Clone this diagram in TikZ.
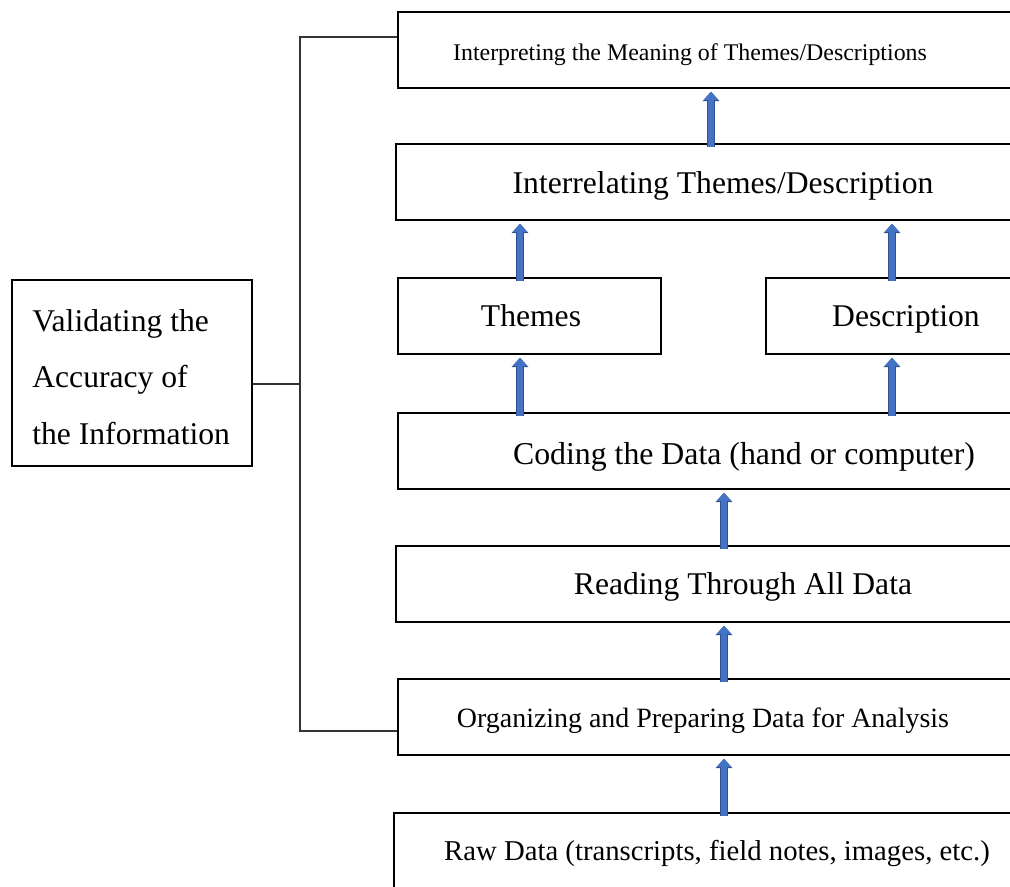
\documentclass[tikz,border=0pt]{standalone}
\usepackage{fontspec}
\setmainfont{Liberation Serif}
\usetikzlibrary{arrows.meta}
\definecolor{arrowfill}{HTML}{4472C4}
\definecolor{arrowline}{HTML}{2F528F}
\tikzset{box/.style={draw=black, line width=1.1pt, rectangle, anchor=north west, inner sep=0pt, minimum width=14cm, minimum height=1.52cm}}
\tikzset{lbl/.style={font=\fontsize{18pt}{22pt}\selectfont, inner sep=0pt, text depth=0pt}}
\tikzset{slbl/.style={font=\fontsize{15.9pt}{19pt}\selectfont, inner sep=0pt, text depth=0pt}}
\tikzset{bracket/.style={draw=black!80, line width=0.8pt}}
\tikzset{blockarr/.style={draw=arrowfill, line width=3.9pt, -{Triangle[width=8pt,length=4.6pt]},
    preaction={draw=arrowline, line width=4.9pt, -{Triangle[width=9.4pt,length=5.4pt]}},
    shorten <=-2pt, shorten >=1.6pt}}

\begin{document}
\begin{tikzpicture}[x=0.02cm, y=-0.02cm]
            
                \useasboundingbox (0,0) rectangle (1010,886);
                \clip (0,0) rectangle (1010,886);
            
                \node[box] (interp) at (397,11) {};
                \node[box] (relate) at (395,143) {};
                \node[box, minimum width=5.26cm] (themes) at (397,277) {};
                \node[box] (descr) at (765,277) {};
                \node[box] (coding) at (397,412) {};
                \node[box] (reading) at (395,545) {};
                \node[box] (organ) at (397,678) {};
                \node[box] (raw) at (393,812) {};
                \node[box, minimum width=4.8cm, minimum height=3.72cm] (valid) at (11,279) {};
            
                \node[font=\fontsize{13.6pt}{16pt}\selectfont, inner sep=0pt, text depth=0pt] (tinterp) at (690,52) {Interpreting the Meaning of Themes/Descriptions};
                \node[lbl] (trelate) at (723,183) {Interrelating Themes/Description};
                \node[lbl] (tthemes) at (531,316) {Themes};
                \node[lbl] (tdescr) at (906,316) {Description};
                \node[lbl, font=\fontsize{18.1pt}{22pt}\selectfont] (tcoding) at (744,453) {Coding the Data (hand or computer)};
                \node[lbl] (treading) at (743,584) {Reading Through All Data};
                \node[slbl] (torgan) at (703,718) {Organizing and Preparing Data for Analysis};
                \node[slbl, font=\fontsize{16.35pt}{19pt}\selectfont] (traw) at (717,850) {Raw Data (transcripts, field notes, images, etc.)};
                \node[font=\fontsize{18pt}{32pt}\selectfont, inner sep=0pt, anchor=west, align=left] (tvalid) at (32,377) {Validating the\\Accuracy of\\the Information};
            
                \coordinate (btop) at (300,37);
                \coordinate (bmid) at (300,384);
                \coordinate (bbot) at (300,731);
                \draw[bracket] (interp.west |- btop) -- (btop) -- (bbot) -- (organ.west |- bbot);
                \draw[bracket] (bmid) -- (valid.east |- bmid);
            
                \coordinate (ctop) at (711,0);
                \coordinate (cmid) at (724,0);
                \coordinate (cleft) at (520,0);
                \coordinate (cright) at (892,0);
                \draw[blockarr] (raw.north -| cmid) -- (organ.south -| cmid);
                \draw[blockarr] (organ.north -| cmid) -- (reading.south -| cmid);
                \draw[blockarr] (reading.north -| cmid) -- (coding.south -| cmid);
                \draw[blockarr] (coding.north -| cleft) -- (themes.south -| cleft);
                \draw[blockarr] (coding.north -| cright) -- (descr.south -| cright);
                \draw[blockarr] (themes.north -| cleft) -- (relate.south -| cleft);
                \draw[blockarr] (descr.north -| cright) -- (relate.south -| cright);
                \draw[blockarr] (relate.north -| ctop) -- (interp.south -| ctop);
        
            \end{tikzpicture}
\end{document}
